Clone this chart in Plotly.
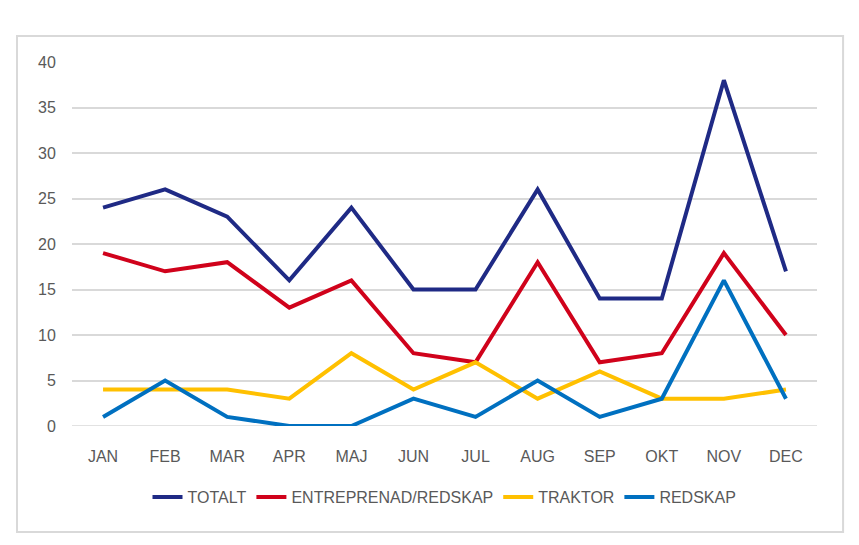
import plotly.graph_objects as go

# månader
months = ['JAN', 'FEB', 'MAR', 'APR', 'MAJ', 'JUN', 'JUL', 'AUG', 'SEP', 'OKT', 'NOV', 'DEC']

totalt = [24, 26, 23, 16, 24, 15, 15, 26, 14, 14, 38, 17]
entreprenad = [19, 17, 18, 13, 16, 8, 7, 18, 7, 8, 19, 10]
traktor = [4, 4, 4, 3, 8, 4, 7, 3, 6, 3, 3, 4]
redskap = [1, 5, 1, 0, 0, 3, 1, 5, 1, 3, 16, 3]

series = [
    ('TOTALT', totalt, '#1f2a85'),
    ('ENTREPRENAD/REDSKAP', entreprenad, '#d0021b'),
    ('TRAKTOR', traktor, '#ffc000'),
    ('REDSKAP', redskap, '#0070c0'),
]

fig = go.Figure()
for name, vals, col in series:
    fig.add_trace(go.Scatter(x=months, y=vals, mode='lines', name=name,
                             line=dict(color=col, width=4)))

text_font = dict(family='Liberation Sans, Arial, sans-serif', size=16, color='#595959')

fig.update_layout(
    width=859, height=545,
    margin=dict(l=64, r=50, t=54, b=127),
    plot_bgcolor='white', paper_bgcolor='white',
    font=text_font,
    showlegend=True,
    legend=dict(orientation='h', x=0.5, xanchor='center', y=-0.195, yanchor='middle',
                font=text_font, itemwidth=30, traceorder='normal'),
)
fig.update_xaxes(range=[-0.5, 11.5], showgrid=False, showline=False,
                 ticks='outside', ticklen=16, tickcolor='white', tickfont=text_font)
fig.update_yaxes(range=[0, 40], dtick=5, showgrid=True, gridcolor='#d9d9d9', gridwidth=1.5,
                 zeroline=False, showline=False, ticks='outside', ticklen=12, tickcolor='white',
                 tickfont=text_font)
# 0-linjen
fig.add_hline(y=0, line_color='#d9d9d9', line_width=1.5, layer='below')

# ram runt diagrammet
fig.add_shape(type='rect', xref='paper', yref='paper',
              x0=-0.0738, x1=1.035, y0=-0.291, y1=1.0714,
              line=dict(color='#d9d9d9', width=2), fillcolor='rgba(0,0,0,0)')

fig.write_html('out.html')
